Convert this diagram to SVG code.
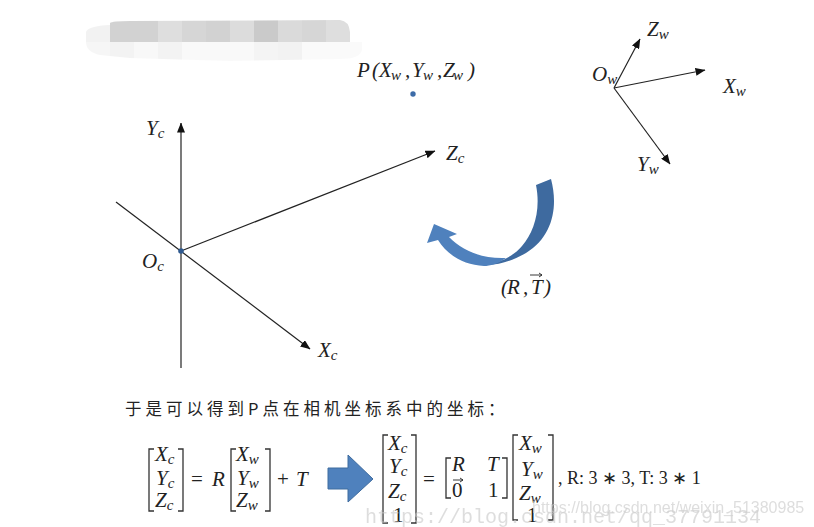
<svg xmlns="http://www.w3.org/2000/svg" width="814" height="527" viewBox="0 0 814 527">
<defs>
<marker id="a" viewBox="0 0 10 8" refX="9.5" refY="4" markerWidth="10" markerHeight="8" markerUnits="userSpaceOnUse" orient="auto"><path d="M0 0L10 4L0 8Z" fill="#111"/></marker>
<filter id="b" x="-5%" y="-5%" width="110%" height="110%"><feGaussianBlur stdDeviation="0.5"/></filter>
<clipPath id="c"><path d="M110 23Q112 21 130 21L340 20Q349 21 350 32V42H362V50Q360 59 340 59L230 61L130 58L100 55Q86 52 86 42V32Q88 26 110 25Z"/></clipPath>
</defs>
<style>
text{font-family:"Liberation Serif","Noto Serif",serif;font-style:italic;font-size:21px;fill:#222}
.s{font-size:15px}
.n{font-style:normal}
.l{fill:none;stroke:#222;stroke-width:1.2}
.br{fill:none;stroke:#333;stroke-width:1.3}
.t{font-family:"Noto Sans CJK SC","Noto Sans",sans-serif;font-style:normal;font-size:16.5px;letter-spacing:4px;fill:#222}
</style>
<rect width="814" height="527" fill="#fff"/>
<g id="scribble" clip-path="url(#c)" filter="url(#b)">
<rect x="86" y="20" width="24" height="22" fill="#f2f2f2"/>
<rect x="110" y="20" width="48" height="22" fill="#d2d2d2"/><rect x="158" y="20" width="24" height="22" fill="#dedede"/><rect x="182" y="20" width="24" height="22" fill="#d6d6d6"/><rect x="206" y="20" width="24" height="22" fill="#d2d2d2"/><rect x="230" y="20" width="24" height="22" fill="#dcdcdc"/><rect x="254" y="20" width="24" height="22" fill="#cacaca"/><rect x="278" y="20" width="24" height="22" fill="#dadada"/><rect x="302" y="20" width="24" height="22" fill="#d6d6d6"/><rect x="326" y="20" width="24" height="22" fill="#dedede"/>
<rect x="86" y="42" width="24" height="20" fill="#f6f6f6"/><rect x="110" y="42" width="24" height="20" fill="#f3f3f3"/><rect x="134" y="42" width="24" height="20" fill="#f8f8f8"/><rect x="158" y="42" width="24" height="20" fill="#f3f3f3"/><rect x="182" y="42" width="72" height="20" fill="#f9f9f9"/><rect x="254" y="42" width="24" height="20" fill="#f4f4f4"/><rect x="278" y="42" width="24" height="20" fill="#f2f2f2"/><rect x="302" y="42" width="60" height="20" fill="#fafafa"/>
</g>
<g id="connectors">
<path class="l" d="M181 368V123" marker-end="url(#a)"/>
<path class="l" d="M181 251L435 151" marker-end="url(#a)"/>
<path class="l" d="M116 202L310 349" marker-end="url(#a)"/>
<path class="l" d="M614 88L640 39" marker-end="url(#a)"/>
<path class="l" d="M614 88L705 70" marker-end="url(#a)"/>
<path class="l" d="M614 88L670 164" marker-end="url(#a)"/>
</g>
<g id="point-P"><circle cx="413" cy="94" r="2.7" fill="#3d6ca8"/>
<text y="77" x="357 372 379">P(X</text><text class="s" x="391" y="80">w</text><text x="405 412" y="77">,Y</text><text class="s" x="423" y="80">w</text><text x="437 443" y="77">,Z</text><text class="s" x="453" y="80">w</text><text x="468" y="77">)</text></g>
<g id="camera-origin"><circle cx="181" cy="251" r="2.8" fill="#2f5a90"/>
<text x="142" y="268">O<tspan class="s" dy="3">c</tspan></text>
<text x="146" y="135">Y<tspan class="s" dy="3">c</tspan></text>
<text x="446" y="160">Z<tspan class="s" dy="3">c</tspan></text>
<text x="318" y="357">X<tspan class="s" dy="3">c</tspan></text></g>
<g id="world-axes">
<text x="592" y="81">O<tspan class="s" dy="3">w</tspan></text>
<text x="647" y="36">Z<tspan class="s" dy="3">w</tspan></text>
<text x="723" y="93">X<tspan class="s" dy="3">w</tspan></text>
<text x="637" y="171">Y<tspan class="s" dy="3">w</tspan></text></g>
<g id="curved-arrow">
<path d="M536 185L551 179C558 205 554 236 526 253C514 260 500 265 488 265C500 262 514 256 522 246C534 232 541 210 536 185Z" fill="#3e6a9f"/>
<path d="M427 243L434 224L457 234L449 237C462 250 480 259 506 258C498 264 490 266 484 266C464 265 447 255 438 240Z" fill="#4f81bd"/>
<text x="501 507 523 531 544" y="294">(R,T)</text>
<path d="M530 275H542M539 273L542 275L539 277" fill="none" stroke="#222" stroke-width="0.9"/></g>
<g id="caption"><text class="t" x="125" y="415">于是可以得到P点在相机坐标系中的坐标：</text></g>
<g id="equation-left">
<path class="br" d="M154 449H149V511H154M178 449H183V511H178"/>
<text x="155" y="461">X<tspan class="s" dy="3">c</tspan></text>
<text x="156" y="485">Y<tspan class="s" dy="3">c</tspan></text>
<text x="155" y="507">Z<tspan class="s" dy="3">c</tspan></text>
<text class="n" x="191" y="486">=</text>
<text x="212" y="486">R</text>
<path class="br" d="M236 449H231V511H236M265 449H270V511H265"/>
<text x="236" y="461">X<tspan class="s" dy="3">w</tspan></text>
<text x="237" y="485">Y<tspan class="s" dy="3">w</tspan></text>
<text x="236" y="507">Z<tspan class="s" dy="3">w</tspan></text>
<text class="n" x="277" y="486">+</text>
<text x="296" y="486">T</text>
</g>
<g id="block-arrow"><path d="M328 468H348V455L373 479L348 502V489H328Z" fill="#4f81bd" stroke="#3f6c9f" stroke-width="1"/></g>
<g id="equation-right">
<path class="br" d="M388 435H383V523H388M411 435H416V523H411"/>
<text x="388" y="450">X<tspan class="s" dy="3">c</tspan></text>
<text x="389" y="473">Y<tspan class="s" dy="3">c</tspan></text>
<text x="388" y="498">Z<tspan class="s" dy="3">c</tspan></text>
<text class="n" x="393" y="522">1</text>
<text class="n" x="423" y="486">=</text>
<path class="br" d="M451 458H446V498H451M502 458H507V498H502"/>
<text x="452" y="471">R</text>
<text x="487" y="471">T</text>
<text class="n" x="452" y="497">0</text>
<text class="n" x="488" y="497">1</text>
<path d="M453 480H463M460 478L463 480L460 482" fill="none" stroke="#222" stroke-width="0.9"/>
<path class="br" d="M518 435H513V520H518M548 435H553V520H548"/>
<text x="519" y="450">X<tspan class="s" dy="3">w</tspan></text>
<text x="521" y="476">Y<tspan class="s" dy="3">w</tspan></text>
<text x="519" y="500">Z<tspan class="s" dy="3">w</tspan></text>
<text class="n" x="527" y="522">1</text>
<text class="n" x="558" y="484" style="font-size:18px">, R: 3 ∗ 3, T: 3 ∗ 1</text>
</g>
<g id="watermarks">
<text class="n" x="365" y="523" style="font-family:'Liberation Mono',monospace;font-size:20px;fill:#c8c8c8;opacity:.6">https://blog.csdn.net/qq_37791134</text>
<text class="n" x="532" y="513" style="font-family:'Liberation Sans',sans-serif;font-size:16px;fill:#d0d0d0;opacity:.7">https://blog.csdn.net/weixin_51380985</text>
</g>
</svg>
